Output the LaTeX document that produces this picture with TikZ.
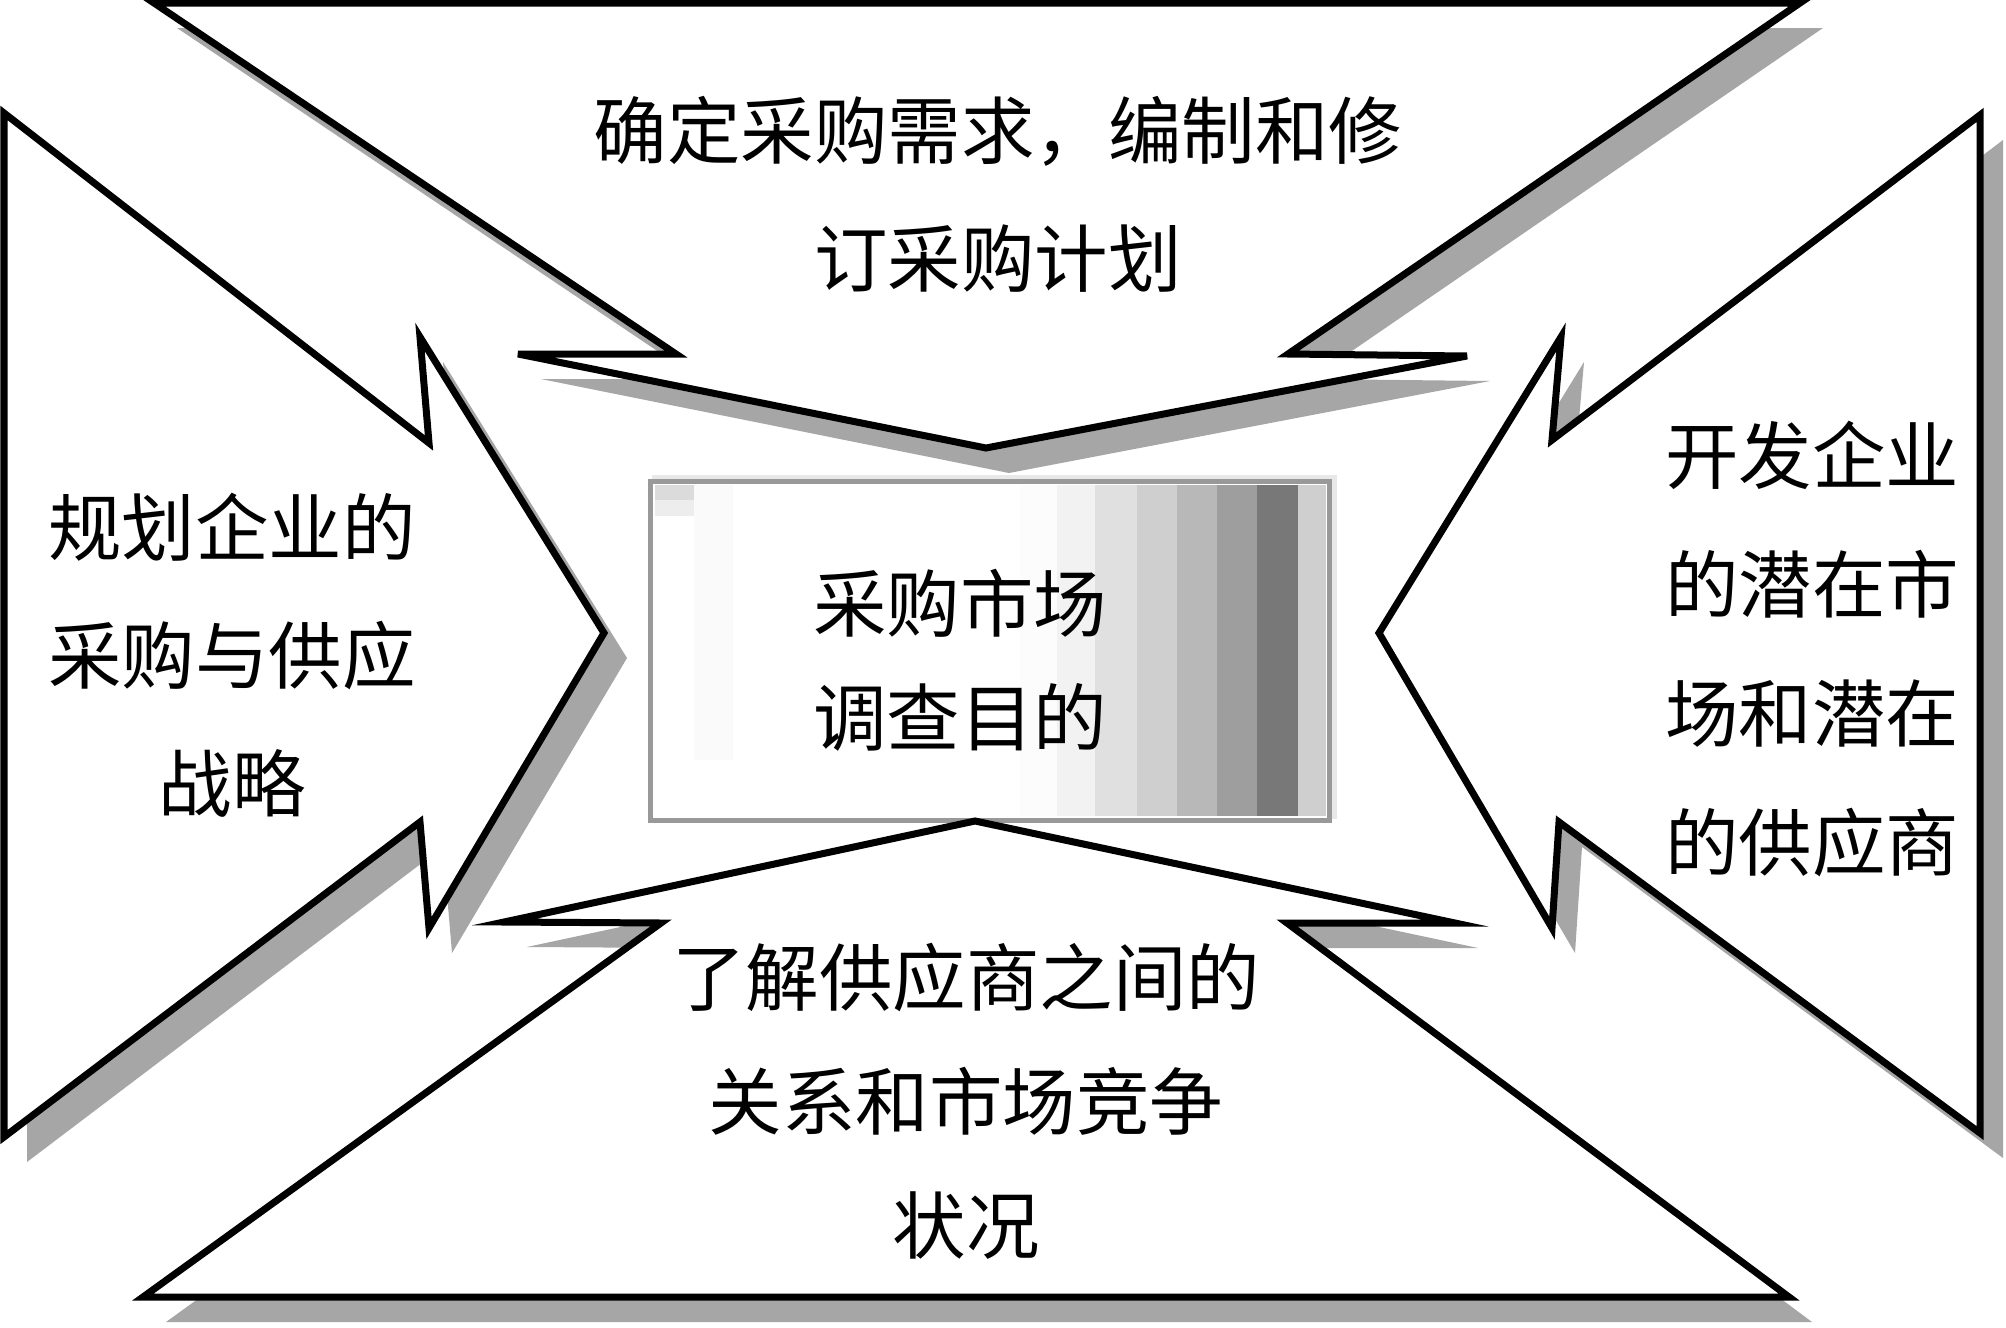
\documentclass[tikz,border=0pt]{standalone}
\usepackage{fontspec}
\newfontfamily\cjk{Noto Sans CJK SC}
\newcommand\toparrowpath{(154,3) -- (1800,3) -- (1288,354) -- (1467,356) -- (986,448) -- (518,354) -- (676,354) -- cycle}
\newcommand\leftarrowpath{(4,113) -- (429,443) -- (420,337) -- (604,633) -- (429,928) -- (420,822) -- (4,1137) -- cycle}
\newcommand\rightarrowpath{(1980,115) -- (1552,440) -- (1561,337) -- (1379,633) -- (1552,928) -- (1559,822) -- (1980,1133) -- cycle}
\newcommand\bottomarrowpath{(143,1297) -- (661,923) -- (504,922) -- (975,821) -- (1455,923) -- (1287,923) -- (1789,1297) -- cycle}
\tikzset{
  arrowshape/.style={draw=black, fill=white, line width=0.07cm, miter limit=10},
  shadowshape/.style={fill=black!35, draw=none, shift={(23,25)}},
  lbl/.style={align=center, inner sep=0pt, text=black},
}
\begin{document}
\begin{tikzpicture}[x=0.01cm, y=-0.01cm]
\useasboundingbox (0,0) rectangle (2006,1327);
\fill[white] (0,0) rectangle (2006,1327);
% shadows
\fill[shadowshape] \toparrowpath;
\fill[shadowshape] \leftarrowpath;
\fill[shadowshape] \rightarrowpath;
\fill[shadowshape] \bottomarrowpath;
% central box
\fill[black!9] (652,475) rectangle (1337,819);
\fill[white] (650,481) rectangle (1330,821);
\fill[black!14] (655,485) rectangle (694,500);
\fill[black!7] (655,500) rectangle (694,516);
\fill[black!2] (694,485) rectangle (733,760);
\fill[black!1] (1020,485) rectangle (1057,816);
\fill[black!5] (1057,485) rectangle (1095,816);
\fill[black!12] (1095,485) rectangle (1137,816);
\fill[black!19] (1137,485) rectangle (1177,816);
\fill[black!28] (1177,485) rectangle (1217,816);
\fill[black!38] (1217,485) rectangle (1257,816);
\fill[black!53] (1257,485) rectangle (1298,816);
\fill[black!19] (1298,485) rectangle (1326,816);
\draw[black!40, line width=0.05cm] (650.5,481.5) rectangle (1329.5,820.5);
% arrows
\path[arrowshape] \toparrowpath;
\path[arrowshape] \leftarrowpath;
\path[arrowshape] \rightarrowpath;
\path[arrowshape] \bottomarrowpath;
% labels
\node[lbl, font=\cjk\fontsize{20.9pt}{36.4pt}\selectfont] (toptext) at (998,194) {确定采购需求，编制和修\\订采购计划};
\node[lbl, font=\cjk\fontsize{20.9pt}{36.4pt}\selectfont] (lefttext) at (232,655) {规划企业的\\采购与供应\\战略};
\node[lbl, font=\cjk\fontsize{20.9pt}{36.7pt}\selectfont] (righttext) at (1812,649) {开发企业\\的潜在市\\场和潜在\\的供应商};
\node[lbl, font=\cjk\fontsize{20.9pt}{32.4pt}\selectfont] (centertext) at (960,660) {采购市场\\调查目的};
\node[lbl, font=\cjk\fontsize{20.9pt}{35.3pt}\selectfont] (bottomtext) at (966,1101) {了解供应商之间的\\关系和市场竞争\\状况};
\end{tikzpicture}
\end{document}
